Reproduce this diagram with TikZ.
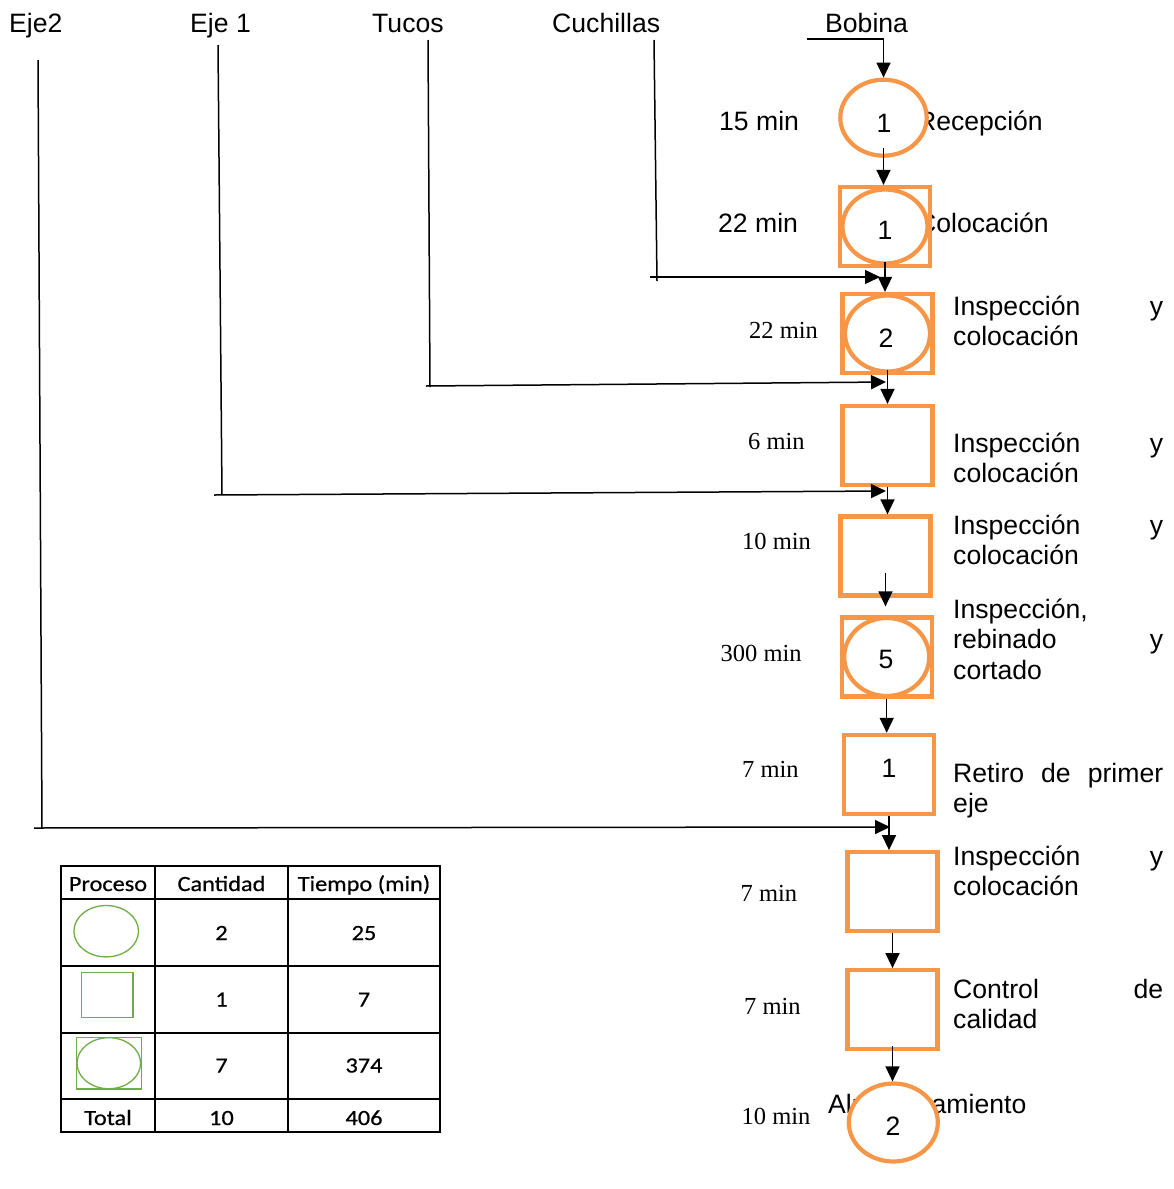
\documentclass[tikz,border=0pt]{standalone}
\usepackage{fontspec}
\setmainfont{Liberation Sans}
\newfontfamily\serifF{Liberation Serif}
\newfontfamily\calF[FakeBold=0.6]{Carlito}
\usepackage{graphicx}
\usetikzlibrary{arrows.meta,shapes.geometric,calc}
\definecolor{org}{RGB}{247,150,70}
\definecolor{grn}{RGB}{112,173,71}
\newcommand\tabtxt[1]{\scalebox{1.12}[1]{#1}}
\begin{document}
\begin{tikzpicture}[x=1pt,y=-1pt,
  sans/.style={font=\fontsize{26.6}{30.5}\selectfont, inner sep=0pt},
  topl/.style={sans, anchor=base west},
  serifl/.style={font=\serifF\fontsize{24.5}{29}\selectfont, inner sep=0pt, anchor=base west},
  desc/.style={sans, anchor=base west, text width=210pt, align=left},
  pbox/.style={rectangle, draw=org, line width=4.2pt, fill=white, minimum width=90pt, minimum height=79pt, inner sep=0pt},
  oval/.style={ellipse, draw=org, line width=4.2pt, fill=white, inner sep=0pt},
  arr/.style={line width=1.5pt, -{Triangle[length=15pt,width=14pt]}},
  feed/.style={line width=1.5pt},
  num/.style={sans, anchor=base},
  tab/.style={font=\calF\fontsize{21.7}{26}\selectfont, inner sep=0pt, anchor=base},
  gshape/.style={draw=grn, line width=1.3pt},
  tline/.style={line width=1.5pt}
]
\useasboundingbox (0,0) rectangle (1173,1189);

% top labels
\node[topl] (lEje2) at (9,32) {Eje2};
\node[topl] (lEje1) at (190,32) {Eje 1};
\node[topl] (lTucos) at (372,32) {Tucos};
\node[topl] (lCuch) at (552,32) {Cuchillas};
\node[topl] (lBob) at (825,32) {Bobina};

% texts partly hidden by shapes
\node[sans, anchor=base east] (tRec) at (1043,130) {Recepción};
\node[sans, anchor=base east] (tCol) at (1049,232) {Colocación};
\node[sans, anchor=base west] (tAlm) at (828,1113) {Almacenamiento};

% time labels
\node[sans, anchor=base west] (m1) at (719,130) {15 min};
\node[sans, anchor=base west] (m2) at (718,232) {22 min};
\node[serifl] (m3) at (749,338) {22 min};
\node[serifl] (m4) at (748,449.5) {6 min};
\node[serifl] (m5) at (742,549) {10 min};
\node[serifl] (m6) at (720.5,661) {300 min};
\node[serifl] (m7) at (742,777) {7 min};
\node[serifl] (m8) at (740.5,901) {7 min};
\node[serifl] (m9) at (744,1014) {7 min};
\node[serifl] (m10) at (741.5,1124) {10 min};

% descriptions
\node[desc] (d3) at (953,315) {Inspección \hfill y\\colocación};
\node[desc] (d4) at (953,452) {Inspección \hfill y\\colocación};
\node[desc] (d5) at (953,534) {Inspección \hfill y\\colocación};
\node[desc] (d6) at (953,618) {Inspección,\\rebinado \hfill y\\cortado};
\node[desc] (d7) at (953,782) {Retiro \hfill de \hfill primer\\eje};
\node[desc] (d8) at (953,865) {Inspección \hfill y\\colocación};
\node[desc] (d9) at (953,998) {Control \hfill de\\calidad};

% process shapes
\node[oval, minimum width=86.4pt, minimum height=76pt] (c1) at (883.5,117.7) {};
\node[pbox] (b2) at (885,226.5) {};
\node[oval, minimum width=85pt, minimum height=74pt] (b2o) at (b2.center) {};
\node[pbox] (b3) at (887.5,333.5) {};
\node[oval, minimum width=85pt, minimum height=76pt] (b3o) at (b3.center) {};
\node[pbox] (b4) at (887.5,445.5) {};
\node[pbox] (b5) at (885.5,556) {};
\node[pbox] (b6) at (886.7,657) {};
\node[oval, minimum width=85pt, minimum height=78pt] (b6o) at (b6.center) {};
\node[pbox] (b7) at (889,774.4) {};
\node[pbox] (b8) at (892.5,891.7) {};
\node[pbox] (b9) at (892.5,1009.7) {};
\node[oval, minimum width=89pt, minimum height=78pt] (c10) at (893.3,1122.5) {};

% numbers
\node[num] (n1) at (884,132) {1};
\node[num] (n2) at (885,239) {1};
\node[num] (n3) at (886,347) {2};
\node[num] (n6) at (886,668) {5};
\node[num] (n7) at (889,777) {1};
\node[num] (n10) at (893,1135) {2};

% main flow arrows
\coordinate (bobL) at (807,39);
\draw[arr] (bobL) -| (c1.north);
\draw[arr] ($(c1.south)+(0,-10)$) -- (c1.south |- b2.north);
\draw[arr] ($(b2.south)+(0,-6)$) -- (b2.south |- b3.north);
\draw[arr] ($(b3.south)+(0,-5)$) -- (b3.south |- b4.north);
\draw[arr] (b4.south) -- (b4.south |- b5.north);
\draw[arr] ($(b5.south)+(0,-25)$) -- ($(b5.south |- b6.north)+(0,-9)$);
\draw[arr] (b6.south) -- (b6.south |- b7.north);
\draw[arr] (b7.south) -- (b7.south |- b8.north);
\draw[arr] (b8.south) -- (b8.south |- b9.north);
\draw[arr] ($(b9.south)+(0,-5)$) -- (b9.south |- c10.north);

% feed lines
\coordinate (cuT) at (654,40);
\coordinate (cuB) at (657,281);
\coordinate (cuL) at (650,277);
\coordinate (cuR) at (880,277);
\draw[feed] (cuT) -- (cuB);
\draw[feed,arr] (cuL) -- (cuR);

\coordinate (tuT) at (428,40);
\coordinate (tuB) at (430,387);
\coordinate (tuL) at (426,386);
\coordinate (tuR) at (886,382);
\draw[feed] (tuT) -- (tuB);
\draw[feed,arr] (tuL) -- (tuR);

\coordinate (e1T) at (218,45);
\coordinate (e1B) at (222,495);
\coordinate (e1L) at (214,495);
\coordinate (e1R) at (886,491);
\draw[feed] (e1T) -- (e1B);
\draw[feed,arr] (e1L) -- (e1R);

\coordinate (e2T) at (38,60);
\coordinate (e2B) at (42,828);
\coordinate (e2L) at (34,828);
\coordinate (e2R) at (890,827);
\draw[feed] (e2T) -- (e2B);
\draw[feed,arr] (e2L) -- (e2R);

% table
\draw[tline] (61,866) rectangle (440,1132);
\draw[tline] (155,866) -- (155,1132);
\draw[tline] (288,866) -- (288,1132);
\draw[tline] (61,899) -- (440,899);
\draw[tline] (61,966) -- (440,966);
\draw[tline] (61,1033) -- (440,1033);
\draw[tline] (61,1099) -- (440,1099);

\node[tab] (h1) at (108,891) {\tabtxt{Proceso}};
\node[tab] (h2) at (221.5,891) {\tabtxt{Cantidad}};
\node[tab] (h3) at (364,891) {\tabtxt{Tiempo (min)}};
\node[tab] (r1a) at (221.5,940) {\tabtxt{2}};
\node[tab] (r1b) at (364,940) {\tabtxt{25}};
\node[tab] (r2a) at (221.5,1006.5) {\tabtxt{1}};
\node[tab] (r2b) at (364,1006.5) {\tabtxt{7}};
\node[tab] (r3a) at (221.5,1072.5) {\tabtxt{7}};
\node[tab] (r3b) at (364,1072.5) {\tabtxt{374}};
\node[tab] (r4l) at (108,1125) {\tabtxt{Total}};
\node[tab] (r4a) at (221.5,1125) {\tabtxt{10}};
\node[tab] (r4b) at (364,1125) {\tabtxt{406}};

\draw[gshape] (106.2,931.2) ellipse [x radius=32.3pt, y radius=25.7pt];
\draw[gshape] (81.5,972.5) rectangle (133,1017.5);
\draw[gshape] (76.5,1037.5) rectangle (141.5,1089);
\draw[gshape] (108.8,1063.2) ellipse [x radius=31.8pt, y radius=25.5pt];
\end{tikzpicture}
\end{document}
